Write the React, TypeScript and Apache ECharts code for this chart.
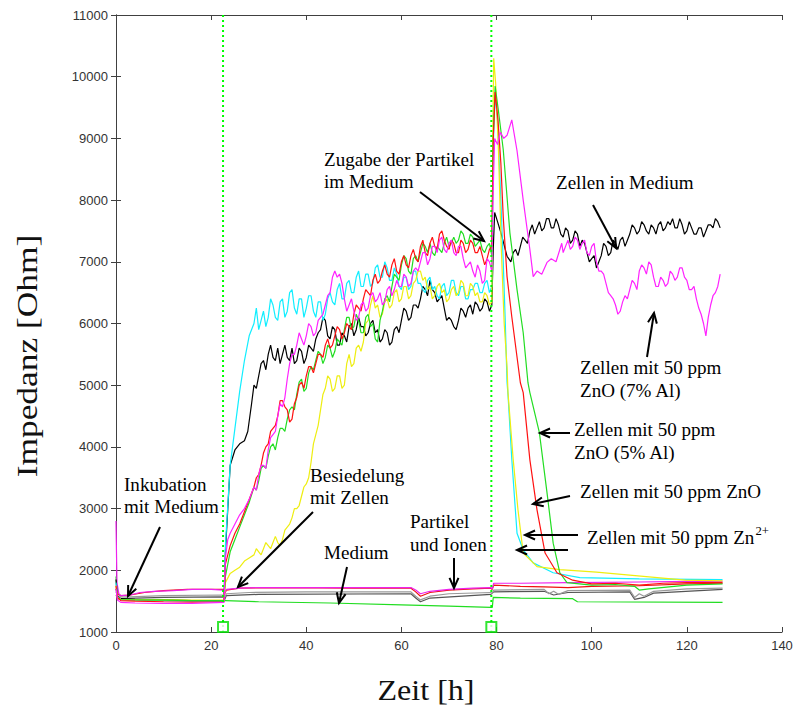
import React, { useEffect, useRef } from "react";
import * as echarts from "echarts";

const X_MIN = 0, X_MAX = 140, X_STEP = 20;
const Y_MIN = 1000, Y_MAX = 11000, Y_STEP = 1000;
const eventTimes = [22.5, 78.9];
const eventMarkerLevel = 1080;

const blackData = [[0,1850],[0.3,1580],[1,1540],[4,1530],[10,1520],[16,1510],[22.7,1510],
[23,2300],[23.5,3000],[24,3700],[25,3950],[26,4050],[27,4100],[27.7,4250],[28.5,4700],[29,5000],[30,5150],[31,5400],[32,5500],[33,5450],[34,5600],[35,5500],[36,5450],[37,5600],[38,5400],[39,5550],[40,5450],[41,5600],[42,5750],[43,5900],[44,6050],[45,5750],[46,5900],[47,5650],[48,5800],[49,5950],[50,5800],[51,6100],[52,5950],[53,5850],[54,6050],[55,5900],[56,5750],[57,5850],[58,5700],[59,5950],[60,6050],[61,6200],[62,6100],[63,6300],[64,6400],[65,6550],[66,6700],[67,6500],[68,6400],[69,6250],[70,6100],[71,5950],[72,6050],[73,6200],[74,6250],[75,6150],[76,6300],[77,6250],[78,6350],[79,6300],
[79.3,7200],[79.6,7800],[80.2,7650],[80.8,7500],[81.5,7300],[82.2,7090],[83,7000],[84,7200],[85,7250],[86,7350],[87,7500],[88,7450],[89,7650],[90,7550],[91,7700],[92,7550],[93,7600],[94,7400],[95,7500],[96,7350],[97,7450],[98,7350],[99,7150],[100,7050],[101,6900],[102,7100],[103,7250],[104,7150],[105,7300],[106,7350],[107,7250],[108,7450],[109,7550],[110,7500],[111,7600],[112,7450],[113,7550],[114,7600],[115,7500],[116,7650],[117,7700],[118,7550],[119,7600],[120,7500],[121,7550],[122,7450],[123,7550],[124,7500],[125,7600],[126,7700],[127,7550]];
const blackMid = [[29.5,4950],[30.5,5350],[31.5,5250],[32.5,5650],[33.5,5400],[34.5,5350],[35.5,5650],[36.5,5400],[37.5,5350],[38.5,5600],[39.5,5350],[40.5,5650],[41.5,5550],[42.5,5850],[43.5,6100],[44.5,5800],[45.5,5950],[46.5,5650],[47.5,5850],[48.5,5700],[49.5,6000],[50.5,5900],[51.5,5950],[52.5,5800],[53.5,6000],[54.5,5850],[55.5,5700],[56.5,5900],[57.5,5650],[58.5,5900],[59.5,5850],[60.5,6250],[61.5,6050],[62.5,6300],[63.5,6250],[64.5,6600],[65.5,6450],[66.5,6550],[67.5,6350],[68.5,6450],[69.5,6050],[70.5,6050],[71.5,5900],[72.5,6250],[73.5,6100],[74.5,6300],[75.5,6350],[76.5,6200],[77.5,6400],[78.5,6200],
[83.5,7150],[84.5,7100],[85.5,7400],[86.5,7300],[87.5,7600],[88.5,7550],[89.5,7500],[90.5,7700],[91.5,7550],[92.5,7700],[93.5,7450],[94.5,7550],[95.5,7300],[96.5,7500],[97.5,7250],[98.5,7300],[99.5,7000],[100.5,7100],[101.5,7000],[102.5,7300],[103.5,7100],[104.5,7350],[105.5,7200],[106.5,7400],[107.5,7350],[108.5,7600],[109.5,7450],[110.5,7650],[111.5,7500],[112.5,7600],[113.5,7450],[114.5,7650],[115.5,7550],[116.5,7600],[117.5,7550],[118.5,7700],[119.5,7450],[120.5,7650],[121.5,7450],[122.5,7550],[123.5,7400],[124.5,7600],[125.5,7550],[126.5,7650]];

const cyanData = [[0,1800],[0.3,1570],[1,1530],[4,1520],[10,1510],[16,1500],[22.7,1500],
[23,2400],[24,3700],[25,4300],[26,4900],[27,5400],[28,5800],[29,6000],[30,5900],[31,6200],[32,6100],[33,6300],[34,6050],[35,6400],[36,6200],[37,6550],[38,6150],[39,6400],[40,6250],[41,6450],[42,6100],[43,6350],[44,6150],[45,6500],[46,6300],[47,6650],[48,6400],[49,6700],[50,6500],[51,6850],[52,6600],[53,6800],[54,6650],[55,6950],[56,6750],[57,6900],[58,6700],[59,6800],[60,6550],[61,6750],[62,6600],[63,6850],[64,6650],[65,6500],[66,6750],[67,6600],[68,6400],[69,6650],[70,6500],[71,6700],[72,6450],[73,6600],[74,6400],[75,6550],[76,6650],[77,6500],[78,6700],[79,6600],
[79.3,8800],[79.6,9700],[80.2,9300],[80.8,8200],[81.4,7000],[81.8,6100],[82.2,5050],[82.4,4850],[83.2,3800],[84.3,2600],[85.6,2330],[87.7,2120],[91.9,1960],[97.5,1880],[110,1860],[127.5,1850]];
const cyanMid = [[29.5,6250],[30.5,6050],[31.5,5950],[32.5,6400],[33.5,6100],[34.5,6350],[35.5,6100],[36.5,6500],[37.5,6250],[38.5,6400],[39.5,6100],[40.5,6450],[41.5,6200],[42.5,6350],[43.5,6050],[44.5,6400],[45.5,6350],[46.5,6550],[47.5,6400],[48.5,6650],[49.5,6500],[50.5,6750],[51.5,6600],[52.5,6800],[53.5,6600],[54.5,6900],[55.5,6750],[56.5,7000],[57.5,6700],[58.5,6900],[59.5,6600],[60.5,6750],[61.5,6550],[62.5,6850],[63.5,6650],[64.5,6550],[65.5,6700],[66.5,6550],[67.5,6450],[68.5,6600],[69.5,6450],[70.5,6700],[71.5,6500],[72.5,6600],[73.5,6400],[74.5,6550],[75.5,6650],[76.5,6500],[77.5,6650],[78.5,6500]];

const yellowData = [[0,1750],[0.3,1560],[1,1530],[4,1525],[10,1520],[16,1515],[22.7,1520],
[23,1800],[24,1950],[25,2000],[26,2050],[27,2150],[28,2200],[29,2250],[30,2300],[31,2350],[32,2400],[33,2450],[34,2450],[35,2500],[36,2700],[37,2850],[38,3000],[39,3200],[40,3400],[41,3750],[42,4200],[43,4600],[44,4950],[45,5100],[46,4950],[47,5150],[48,5000],[49,5500],[50,5350],[51,5650],[52,5700],[53,6050],[54,6450],[55,6300],[56,6150],[57,6400],[58,6300],[59,6550],[60,6400],[61,6600],[62,6450],[63,6700],[64,6850],[65,6750],[66,6600],[67,6450],[68,6650],[69,6550],[70,6400],[71,6600],[72,6500],[73,6650],[74,6450],[75,6600],[76,6500],[77,6350],[78,6450],[79,6350],
[79.2,9000],[79.4,10300],[79.8,9900],[80.4,8800],[81,7200],[81.6,6000],[82.2,5300],[82.4,4880],[83.5,3790],[84.5,2980],[85.6,2280],[88.5,2060],[93.3,2010],[101,1970],[119.6,1840],[127.5,1830]];
const yellowMid = [[29.5,2350],[30.5,2250],[31.5,2450],[32.5,2350],[33.5,2550],[34.5,2400],[35.5,2650],[36.5,2750],[37.5,3000],[38.5,3050],[39.5,3350],[40.5,3500],[41.5,4050],[42.5,4350],[43.5,4850],[44.5,5150],[45.5,4900],[46.5,5150],[47.5,4950],[48.5,5350],[49.5,5300],[50.5,5600],[51.5,5550],[52.5,6000],[53.5,6300],[54.5,6250],[55.5,6100],[56.5,6350],[57.5,6250],[58.5,6500],[59.5,6350],[60.5,6600],[61.5,6400],[62.5,6650],[63.5,6850],[64.5,6700],[65.5,6550],[66.5,6400],[67.5,6600],[68.5,6500],[69.5,6350],[70.5,6550],[71.5,6450],[72.5,6700],[73.5,6450],[74.5,6650],[75.5,6450],[76.5,6350],[77.5,6500],[78.5,6300]];

const greenData = [[0,1700],[0.3,1550],[1,1525],[4,1520],[10,1515],[16,1510],[22.7,1510],
[23,1900],[24,2300],[25,2500],[26,2700],[27,2900],[28,3100],[29,3350],[30,3450],[31,3700],[32,3850],[33,4050],[34,4150],[35,4300],[36,4450],[37,4650],[38,4850],[39,5100],[40,4950],[41,5300],[42,5400],[43,5500],[44,5450],[45,5600],[46,5550],[47,5700],[48,5900],[49,6100],[50,5950],[51,6050],[52,5850],[53,6150],[54,6000],[55,5700],[56,6200],[57,6450],[58,6600],[59,6750],[60,6950],[61,7050],[62,6800],[63,7100],[64,7150],[65,7250],[66,7300],[67,7100],[68,7200],[69,7300],[70,7250],[71,7400],[72,7350],[73,7450],[74,7300],[75,7400],[76,7300],[77,7200],[78,7250],[79,7100],
[79.3,9000],[79.7,9850],[80.3,9500],[81.4,8820],[82.8,7470],[84.3,6550],[85.6,5850],[86.6,5040],[87,4880],[89,4230],[90.6,3260],[91.9,2440],[93.3,1960],[94.8,1800],[100,1760],[105,1770],[109,1740],[110,1680],[112,1700],[120,1760],[127.5,1780]];
const greenMid = [[29.5,3300],[30.5,3650],[31.5,3650],[32.5,4000],[33.5,3950],[34.5,4300],[35.5,4250],[36.5,4600],[37.5,4600],[38.5,5050],[39.5,4900],[40.5,5200],[41.5,5250],[42.5,5550],[43.5,5350],[44.5,5650],[45.5,5450],[46.5,5750],[47.5,5650],[48.5,6100],[49.5,5900],[50.5,6150],[51.5,5850],[52.5,6100],[53.5,5950],[54.5,5750],[55.5,6050],[56.5,6400],[57.5,6350],[58.5,6800],[59.5,6700],[60.5,7100],[61.5,6850],[62.5,7050],[63.5,7000],[64.5,7300],[65.5,7150],[66.5,7150],[67.5,7250],[68.5,7150],[69.5,7400],[70.5,7300],[71.5,7300],[72.5,7500],[73.5,7300],[74.5,7450],[75.5,7250],[76.5,7350],[77.5,7150],[78.5,7300]];

const redData = [[0,1750],[0.3,1560],[1,1510],[4,1500],[10,1490],[16,1485],[22.7,1490],
[23,2100],[24,2400],[25,2600],[26,2750],[27,2950],[28,3150],[29,3350],[30,3550],[31,3900],[32,4050],[33,4300],[34,4500],[35,4750],[36,4600],[37,4450],[38,4800],[39,5050],[40,5150],[41,5300],[42,5350],[43,5500],[44,5650],[45,5600],[46,5800],[47,5900],[48,5850],[49,5950],[50,6150],[51,6250],[52,6400],[53,6500],[54,6700],[55,6650],[56,6850],[57,6800],[58,6950],[59,6850],[60,7000],[61,6950],[62,7100],[63,7050],[64,7250],[65,7150],[66,7300],[67,7250],[68,7450],[69,7350],[70,7200],[71,7300],[72,7150],[73,7300],[74,7200],[75,7300],[76,7150],[77,7100],[78,7050],[79,7250],
[79.3,9000],[79.7,9750],[80.3,9300],[80.9,8600],[81.4,7730],[82.2,6760],[83.2,6110],[85,5040],[85.6,4880],[87,3790],[88.5,2980],[90.2,2280],[92.7,1960],[96,1840],[100,1780],[105,1790],[110,1760],[115,1790],[120,1800],[127.5,1800]];
const redMid = [[29.5,3500],[30.5,3700],[31.5,4000],[32.5,4250],[33.5,4350],[34.5,4750],[35.5,4650],[36.5,4400],[37.5,4700],[38.5,5000],[39.5,4950],[40.5,5300],[41.5,5200],[42.5,5500],[43.5,5450],[44.5,5750],[45.5,5650],[46.5,5950],[47.5,5750],[48.5,6000],[49.5,5900],[50.5,6300],[51.5,6200],[52.5,6550],[53.5,6450],[54.5,6800],[55.5,6700],[56.5,6950],[57.5,6750],[58.5,7050],[59.5,6800],[60.5,7100],[61.5,6900],[62.5,7200],[63.5,7000],[64.5,7350],[65.5,7100],[66.5,7400],[67.5,7200],[68.5,7500],[69.5,7250],[70.5,7350],[71.5,7150],[72.5,7350],[73.5,7150],[74.5,7350],[75.5,7150],[76.5,7250],[77.5,6950],[78.5,7200]];

const magentaData = [[0,1700],[0.3,1520],[1,1480],[4,1470],[10,1465],[16,1465],[22.7,1480],
[23,2200],[23.5,2500],[24,2600],[25,2750],[26,2900],[27,3000],[28,3150],[29,3350],[30,3550],[31,3700],[32,3950],[33,4200],[34,4500],[35,4650],[36,5100],[37,5500],[38,5650],[39,5750],[40,5800],[41,5950],[42,5850],[43,6100],[44,6300],[45,6500],[46,6850],[46.5,6750],[47,6800],[48,6400],[49,6300],[50,6200],[51,6100],[52,6350],[53,6250],[54,6500],[55,6400],[56,6300],[57,6550],[58,6450],[59,6700],[60,6600],[61,6750],[62,6650],[63,6900],[64,7000],[65,7150],[66,7050],[67,7250],[68,7350],[69,7200],[70,7300],[71,7150],[72,7250],[73,7050],[74,6950],[75,6850],[76,6950],[77,6650],[78,7050],[79,6850],
[79.3,8200],[79.6,9000],[80.2,8900],[80.8,9100],[81.5,9000],[82.2,9050],[83.2,9300],[84.3,8800],[85.6,8000],[87,7200],[87.7,6760],[88.5,6850],[89.5,6800],[90.6,6990],[91.5,7050],[92.5,7000],[93.3,7200],[94,7150],[95,7350],[96,7250],[97,7350],[98,7300],[99,7150],[100,7250],[101,7000],[102,6850],[103,6650],[104,6450],[105,6300],[106,6200],[107,6450],[108,6550],[109,6650],[110,6850],[111,6900],[112,7000],[113,6750],[114,6600],[115,6700],[116,6650],[117,6800],[118,6750],[119,6900],[120,6700],[121,6550],[122,6400],[123,6150],[124,5800],[125,6300],[126,6500],[127,6800]];
const magentaMid = [[29.5,3300],[30.5,3700],[31.5,3650],[32.5,4150],[33.5,4250],[34.5,4700],[35.5,4800],[36.5,5350],[37.5,5500],[38.5,5850],[39.5,5650],[40.5,6000],[41.5,5800],[42.5,6050],[43.5,6150],[44.5,6450],[45.5,6750],[47.5,6650],[48.5,6200],[49.5,6400],[50.5,6050],[51.5,6300],[52.5,6200],[53.5,6450],[54.5,6350],[55.5,6500],[56.5,6350],[57.5,6600],[58.5,6550],[59.5,6600],[60.5,6800],[61.5,6600],[62.5,6850],[63.5,6850],[64.5,7150],[65.5,6950],[66.5,7250],[67.5,7150],[68.5,7400],[69.5,7150],[70.5,7350],[71.5,7100],[72.5,7250],[73.5,6900],[74.5,7000],[75.5,6750],[76.5,6850],[77.5,6700],[78.5,7000],
[93.7,7300],[94.5,7250],[95.5,7200],[96.5,7400],[97.5,7200],[98.5,7350],[99.5,7100],[100.5,7300],[101.5,6850],[102.5,6800],[103.5,6500],[104.5,6400],[105.5,6150],[106.5,6350],[107.5,6400],[108.5,6700],[109.5,6550],[110.5,6950],[111.5,6800],[112.5,6950],[113.5,6600],[114.5,6750],[115.5,6600],[116.5,6850],[117.5,6700],[118.5,6900],[119.5,6750],[120.5,6550],[121.5,6600],[122.5,6250],[123.5,6000],[124.5,6100],[125.5,6450],[126.5,6600]];

const ctrlMagentaData = [[0,2800],[0.2,1800],[0.6,1620],[1,1590],[3,1600],[5,1640],[8,1660],[12,1670],[16,1690],[20,1690],[22.6,1680],[22.8,1620],[23.2,1690],[26,1710],[30,1720],[40,1720],[50,1720],[62,1720],[63,1680],[64,1620],[66,1660],[70,1690],[75,1710],[78.8,1720],[79.1,1700],[79.4,1790],[85,1790],[95,1800],[110,1810],[120,1820],[127.5,1820]];
const ctrlRedData = [[0,1700],[0.5,1610],[1,1590],[3,1600],[6,1640],[10,1670],[15,1690],[22.6,1690],[22.8,1610],[23.2,1680],[26,1710],[35,1720],[50,1710],[62,1710],[63,1650],[64,1580],[66,1640],[70,1680],[75,1700],[78.8,1710],[79.1,1690],[79.4,1760],[85,1740],[90,1730],[95,1720],[100,1740],[110,1750],[120,1780],[127.5,1790]];
const ctrlGrayData = [[0,1650],[0.5,1570],[3,1570],[10,1590],[22.6,1600],[22.8,1550],[23.2,1620],[28,1640],[40,1650],[62,1650],[63,1580],[64,1520],[66,1580],[70,1620],[78.8,1640],[79.1,1620],[79.4,1680],[90,1690],[91,1620],[92,1660],[93,1610],[95,1670],[108,1680],[109,1560],[110,1620],[111,1580],[113,1660],[120,1700],[127.5,1710]];
const ctrlDarkData = [[0,1600],[0.5,1540],[10,1560],[22.6,1570],[22.8,1520],[23.2,1590],[30,1610],[62,1620],[63,1550],[64,1490],[66,1550],[78.8,1610],[79.4,1650],[90,1660],[92,1600],[95,1640],[108,1650],[109,1530],[111,1560],[113,1630],[127.5,1690]];
const ctrlGreenData = [[0,1900],[0.3,1560],[1,1530],[5,1520],[22.6,1500],[23,1510],[30,1490],[45,1470],[60,1440],[70,1420],[78.8,1400],[79.1,1400],[79.3,1560],[85,1550],[96,1540],[97,1490],[127.5,1480]];

const FAMILY = "'Liberation Serif'";
const LABEL_STRETCH = 1.06;

function merge(a: number[][], b: number[][] = []) {
  return [...a, ...b].sort((p, q) => p[0] - q[0]);
}

function arrow(x1: number, y1: number, x2: number, y2: number) {
  const ang = Math.atan2(y2 - y1, x2 - x1);
  const L = 11, a = 0.42;
  const p1 = [x2 - L * Math.cos(ang - a), y2 - L * Math.sin(ang - a)];
  const p2 = [x2 - L * Math.cos(ang + a), y2 - L * Math.sin(ang + a)];
  return [
    { type: "line", z: 100, shape: { x1, y1, x2, y2 }, style: { stroke: "#000", lineWidth: 2 } },
    { type: "polyline", z: 100, shape: { points: [p1, [x2, y2], p2] }, style: { stroke: "#000", lineWidth: 2, fill: null } },
  ];
}

// y is the top of the text line
function label(text: string, x: number, y: number, size = 18) {
  return {
    type: "text", z: 100, x, y: y - size / 2, scaleX: LABEL_STRETCH,
    style: { text, font: `${size}px ${FAMILY}`, fill: "#000" },
  };
}

function measure(text: string, size: number) {
  const c = document.createElement("canvas").getContext("2d");
  if (!c) return text.length * size * 0.45;
  c.font = `${size}px ${FAMILY}`;
  return c.measureText(text).width;
}

export default function App() {
  const ref = useRef<HTMLDivElement>(null);
  useEffect(() => {
    document.body.style.margin = "0";
    const chart = echarts.init(ref.current!, null, { renderer: "svg" });
    const axisLine = { show: true, lineStyle: { color: "#404040", width: 1 } };
    const axisTick = { show: true, inside: true, length: 5, lineStyle: { color: "#404040" } };
    const tickFont = { color: "#333", fontSize: 13, fontFamily: "Liberation Sans", formatter: (v: number) => String(v) };
    const line = (data: number[][], color: string, w = 1.2) => ({
      type: "line", data, showSymbol: false, symbol: "none", lineStyle: { color, width: w }, itemStyle: { color }, silent: true,
    });
    const mainSeries = [
      line(ctrlGreenData, "#22dd22"),
      line(ctrlDarkData, "#555555"),
      line(ctrlGrayData, "#999999"),
      line(ctrlRedData, "#ee1111"),
      line(ctrlMagentaData, "#ee22ee"),
      line(merge(blackData, blackMid), "#000000"),
      line(merge(cyanData, cyanMid), "#11eeff"),
      line(merge(yellowData, yellowMid), "#eeee11"),
      line(merge(greenData, greenMid), "#22dd22"),
      line(merge(redData, redMid), "#ff1111"),
      line(merge(magentaData, magentaMid), "#ff22ff"),
    ];
    const eventLines = eventTimes.map((t) => ({
      type: "line", data: [[t, Y_MIN], [t, Y_MAX]], showSymbol: false, symbol: "none", silent: true,
      lineStyle: { color: "#00ff00", width: 2, type: [2, 3] },
    }));
    const markers = {
      type: "scatter", data: eventTimes.map((t) => [t, eventMarkerLevel]), symbol: "rect", symbolSize: 10,
      itemStyle: { color: "#ffffff", borderColor: "#00e000", borderWidth: 2 }, silent: true, z: 5,
    };
    const znText = "Zellen mit 50 ppm Zn";
    const znW = measure(znText, 18) * LABEL_STRETCH;
    const graphics: any[] = [
      {
        type: "text", z: 100, x: 426, y: 690, scaleX: 1.07,
        style: { text: "Zeit [h]", font: `30px ${FAMILY}`, fill: "#111", textAlign: "center", textVerticalAlign: "middle", align: "center", verticalAlign: "middle" },
      },
      {
        type: "text", z: 100, x: 27, y: 356, rotation: Math.PI / 2, scaleX: 1.18,
        style: { text: "Impedanz [Ohm]", font: `30px ${FAMILY}`, fill: "#111", textAlign: "center", textVerticalAlign: "middle", align: "center", verticalAlign: "middle" },
      },
      label("Inkubation", 124, 485), label("mit Medium", 124, 507),
      label("Besiedelung", 310, 476), label("mit Zellen", 310, 498),
      label("Medium", 324, 553),
      label("Partikel", 410, 522), label("und Ionen", 410, 545),
      label("Zugabe der Partikel", 324, 160), label("im Medium", 324, 182),
      label("Zellen in Medium", 556, 183),
      label("Zellen mit 50 ppm", 580, 368), label("ZnO (7% Al)", 580, 391),
      label("Zellen mit 50 ppm", 574, 430), label("ZnO (5% Al)", 574, 453),
      label("Zellen mit 50 ppm ZnO", 580, 492),
      label(znText, 587, 538),
      label("2+", 587 + znW + 1, 531, 12),
      ...arrow(160, 527, 128, 596),
      ...arrow(313, 512, 238, 587),
      ...arrow(347, 567, 339, 603),
      ...arrow(454, 558, 454, 588),
      ...arrow(420, 192, 484, 241),
      ...arrow(593, 205, 616, 248),
      ...arrow(647, 357, 654, 313),
      ...arrow(570, 433, 540, 433),
      ...arrow(570, 496, 533, 504),
      ...arrow(578, 535, 525, 535),
      ...arrow(568, 550, 517, 550),
    ];
    chart.setOption({
      animation: false,
      backgroundColor: "#ffffff",
      grid: { left: 116, right: 16, top: 15, bottom: 79, containLabel: false },
      xAxis: [
        { type: "value", min: X_MIN, max: X_MAX, interval: X_STEP, position: "bottom", axisLine, axisTick, splitLine: { show: false }, axisLabel: { ...tickFont, margin: 7 } },
        { type: "value", min: X_MIN, max: X_MAX, interval: X_STEP, position: "top", axisLine, axisTick, splitLine: { show: false }, axisLabel: { show: false } },
      ],
      yAxis: [
        { type: "value", min: Y_MIN, max: Y_MAX, interval: Y_STEP, position: "left", axisLine, axisTick, splitLine: { show: false }, axisLabel: { ...tickFont, margin: 8 } },
        { type: "value", min: Y_MIN, max: Y_MAX, interval: Y_STEP, position: "right", axisLine, axisTick, splitLine: { show: false }, axisLabel: { show: false } },
      ],
      series: [...mainSeries, ...eventLines, markers],
      graphic: graphics,
    });
    return () => chart.dispose();
  }, []);
  return <div ref={ref} style={{ width: 798, height: 711 }} />;
}
